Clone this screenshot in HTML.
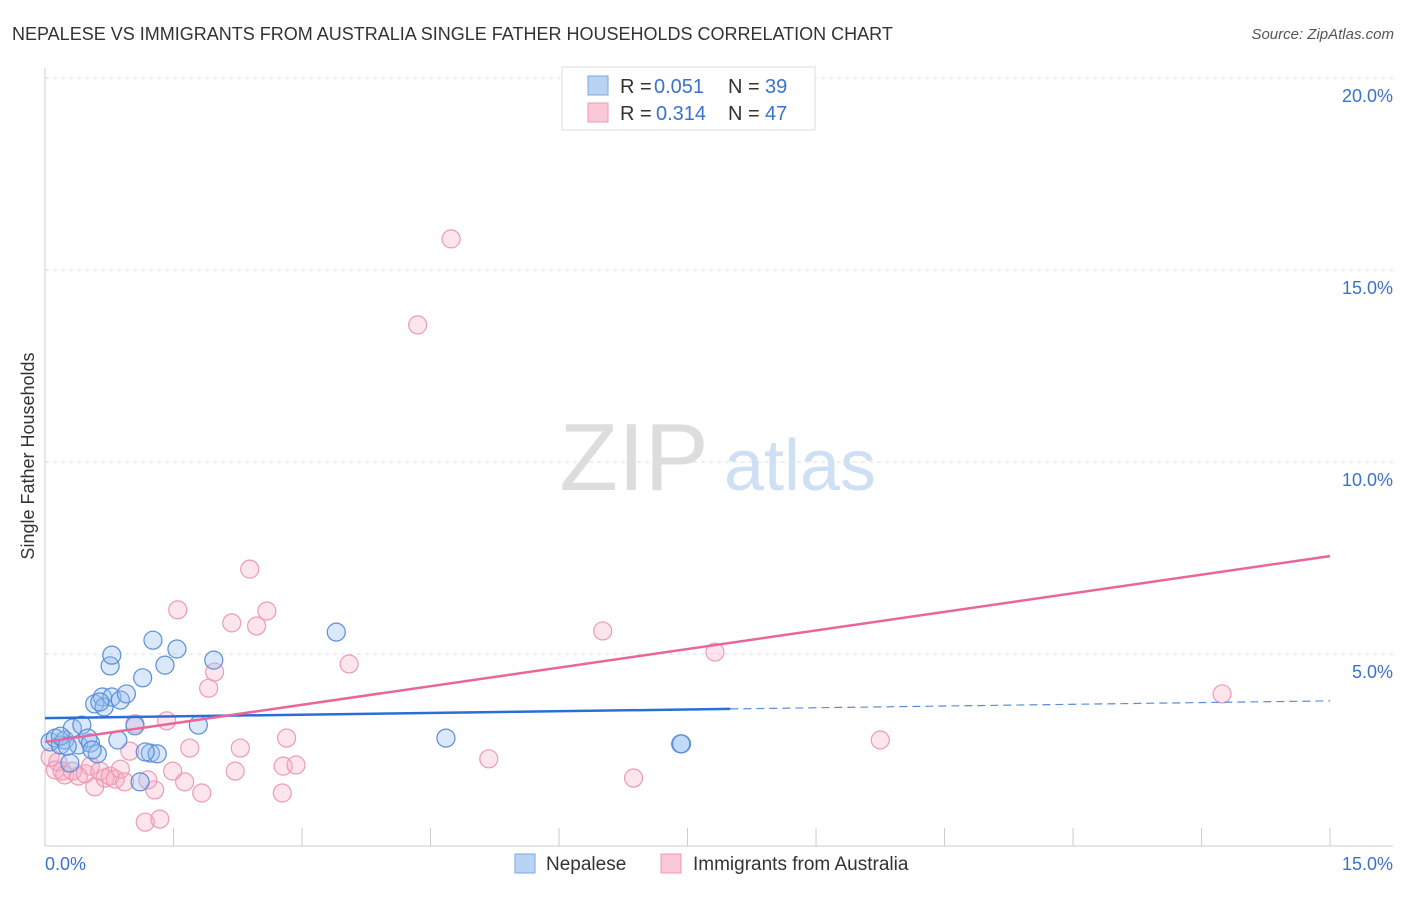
<!DOCTYPE html>
<html><head><meta charset="utf-8"><style>
body{margin:0;background:#fff;font-family:"Liberation Sans",sans-serif}
svg text{font-family:"Liberation Sans",sans-serif}
</style></head><body>
<svg id="c" width="1406" height="892">
<text x="12" y="40" font-size="18" fill="#333">NEPALESE VS IMMIGRANTS FROM AUSTRALIA SINGLE FATHER HOUSEHOLDS CORRELATION CHART</text>
<text x="1394" y="39" font-size="15" fill="#555" font-style="italic" text-anchor="end">Source: ZipAtlas.com</text>
<text x="34" y="456" font-size="18" fill="#333" text-anchor="middle" transform="rotate(-90 34 456)">Single Father Households</text>
<g id="grid"></g>
<g><text x="634" y="490" font-size="96" fill="#ddd" font-family="Liberation Serif" text-anchor="middle">ZIP</text><text x="800" y="490" font-size="72" fill="#cfe0f5" text-anchor="middle">atlas</text></g>
<g id="pts"></g>
<g id="lines"></g>
<g>
<rect x="562" y="67" width="253" height="63" fill="#fff" stroke="#ddd"/>
<rect x="588" y="76" width="20" height="19" fill="#b8d4f5" stroke="#7aa8e0"/>
<text x="620" y="93" font-size="20" fill="#333">R =</text>
<text x="654" y="93" font-size="20" fill="#3a72d0">0.051</text>
<text x="728" y="93" font-size="20" fill="#333">N =</text>
<text x="765" y="93" font-size="20" fill="#3a72d0">39</text>
<rect x="588" y="103" width="20" height="19" fill="#fac8d6" stroke="#ee9ab2"/>
<text x="620" y="120" font-size="20" fill="#333">R =</text>
<text x="656" y="120" font-size="20" fill="#3a72d0">0.314</text>
<text x="728" y="120" font-size="20" fill="#333">N =</text>
<text x="765" y="120" font-size="20" fill="#3a72d0">47</text>
</g>
<g>
<rect x="515" y="854" width="20" height="19" fill="#b8d4f5" stroke="#7aa8e0"/>
<text x="546" y="870" font-size="19" fill="#333">Nepalese</text>
<rect x="661" y="854" width="20" height="19" fill="#fac8d6" stroke="#ee9ab2"/>
<text x="693" y="870" font-size="19" fill="#333">Immigrants from Australia</text>
</g>
</svg>
<script>
const yTicks=[5,10,15,20];
const yTickLabels=["5.0%","10.0%","15.0%","20.0%"];
const xTicks=[0,1.5,3,4.5,6,7.5,9,10.5,12,13.5,15];
const blueX=[0.06,0.12,0.18,0.23,0.29,0.32,0.39,0.43,0.5,0.53,0.58,0.61,0.67,0.69,0.76,0.78,0.78,0.85,0.88,0.95,1.05,1.14,1.23,1.26,1.31,1.4,1.54,1.79,1.97,1.11,3.4,4.68,7.42,7.43,0.18,0.26,0.55,1.17,0.64];
const blueY=[2.71,2.81,2.63,2.76,2.16,3.07,2.63,3.15,2.81,2.68,3.7,2.4,3.88,3.62,4.69,4.97,3.88,2.76,3.8,3.96,3.13,4.38,2.42,5.36,2.4,4.71,5.13,3.15,4.84,1.67,5.57,2.81,2.66,2.66,2.86,2.6,2.5,2.45,3.75];
const pinkX=[0.06,0.12,0.15,0.2,0.23,0.32,0.39,0.47,0.53,0.58,0.64,0.7,0.76,0.82,0.88,0.93,0.99,1.05,1.17,1.2,1.28,1.34,1.42,1.49,1.55,1.63,1.69,1.83,1.91,1.98,2.18,2.22,2.28,2.39,2.47,2.59,2.77,2.78,2.82,2.93,3.55,4.35,4.74,5.18,6.51,6.87,7.82,9.75,13.74];
const pinkY=[2.31,1.98,2.19,1.95,1.85,1.95,1.82,1.88,2.08,1.54,1.95,1.77,1.82,1.74,2.0,1.67,2.47,3.18,0.62,1.72,1.46,0.7,3.26,1.95,6.15,1.67,2.55,1.38,4.11,4.53,5.81,1.95,2.55,7.21,5.73,6.12,1.38,2.08,2.81,2.11,4.74,13.57,15.81,2.27,5.6,1.77,5.05,2.76,3.96];
const blueFit=[3.33,3.78], blueSolidEnd=8.0;
const pinkFit=[2.71,7.55];
const X=v=>45+v*85.67, Y=v=>846-v*38.4;
const ns="http://www.w3.org/2000/svg";
function mk(t,a,p){const e=document.createElementNS(ns,t);for(const k in a)e.setAttribute(k,a[k]);p.appendChild(e);return e;}
const g=document.getElementById('grid');
const ax=mk('line',{x1:45,y1:68,x2:45,y2:846,stroke:'#ccc'},g);

const bx=mk('line',{x1:45,y1:846,x2:1393,y2:846,stroke:'#ccc'},g);

yTicks.forEach((v,i)=>{
 const l=mk('line',{x1:45,y1:Y(v),x2:1393,y2:Y(v),stroke:'#ddd','stroke-dasharray':'4,4'},g);
 
 const t=mk('text',{x:1393,y:Y(v)+24,'font-size':18,fill:'#3a72d0','text-anchor':'end'},g);t.textContent=yTickLabels[i];
 
});
xTicks.forEach(v=>{const l=mk('line',{x1:X(v),y1:828,x2:X(v),y2:846,stroke:'#ccc'},g);
 });
[["0.0%",45,'start'],["15.0%",1393,'end']].forEach(a=>{const t=mk('text',{x:a[1],y:870,'font-size':18,fill:'#3a72d0','text-anchor':a[2]},g);t.textContent=a[0];
 });
const p=document.getElementById('pts');
pinkX.forEach((v,i)=>{const c=mk('circle',{cx:X(v),cy:Y(pinkY[i]),r:9,fill:'rgba(246,170,194,0.3)',stroke:'#ee9ab2','stroke-width':1.2},p);
 });
blueX.forEach((v,i)=>{const c=mk('circle',{cx:X(v),cy:Y(blueY[i]),r:9,fill:'rgba(150,190,240,0.35)',stroke:'#5a8ed8','stroke-width':1.2},p);
 });
const L=document.getElementById('lines');
const by=x=>blueFit[0]+(blueFit[1]-blueFit[0])*x/15;
let l1=mk('line',{x1:X(0),y1:Y(by(0)),x2:X(blueSolidEnd),y2:Y(by(blueSolidEnd)),stroke:'#2a6fd6','stroke-width':2.5},L);

let l2=mk('line',{x1:X(blueSolidEnd),y1:Y(by(blueSolidEnd)),x2:X(15),y2:Y(by(15)),stroke:'#5a8ed8','stroke-width':1.2,'stroke-dasharray':'8,5'},L);

let l3=mk('line',{x1:X(0),y1:Y(pinkFit[0]),x2:X(15),y2:Y(pinkFit[1]),stroke:'#e8669a','stroke-width':2.5},L);

</script>
</body></html>
